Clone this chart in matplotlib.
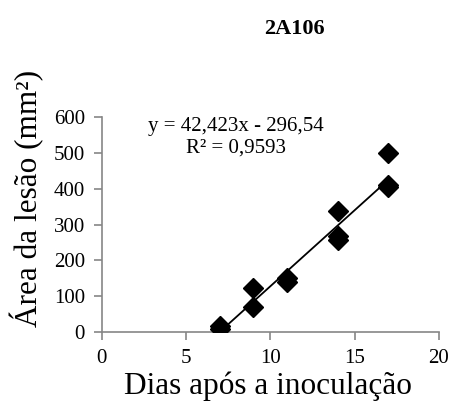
import numpy as np
import matplotlib
matplotlib.use("Agg")
import matplotlib.pyplot as plt

plt.rcParams['font.family'] = ['Liberation Serif', 'DejaVu Serif']

dias = [7, 7, 9, 9, 11, 11, 14, 14, 14, 17, 17, 17]
area = [18, 8, 122, 70, 152, 141, 337, 268, 258, 500, 410, 406]
slope, intercept = 42.423, -296.54
x_ticks = [0, 5, 10, 15, 20]
y_ticks = [0, 100, 200, 300, 400, 500, 600]

W, H = 452, 412
fig = plt.figure(figsize=(W / 100, H / 100), dpi=100)
ax = fig.add_axes([0.225, 0.194, 0.746, 0.522])

ax.plot(dias, area, linestyle="none", marker="D", markersize=10,
        color="black", zorder=3)
xl = np.array([min(dias), max(dias)])
ax.plot(xl, slope * xl + intercept, color="black", linewidth=1.3, zorder=2)

ax.set_xlim(0, 20)
ax.set_ylim(0, 600)
ax.set_xticks(x_ticks)
ax.set_yticks(y_ticks)
for s in ["top", "right"]:
    ax.spines[s].set_visible(False)
for s in ["left", "bottom"]:
    ax.spines[s].set_color("#868686")
    ax.spines[s].set_linewidth(1.2)
ax.tick_params(colors="#868686", labelcolor="black", labelsize=15,
               direction="out", length=6, width=1.2, pad=6)

# trendline equation (Excel-style label)
fig.text(236 / W, 1 - 127 / H, "y = 42,423x - 296,54",
         ha="center", va="center", fontsize=15)
fig.text(236 / W, 1 - 148 / H, "R² = 0,9593",
         ha="center", va="center", fontsize=15)

ax.set_xlabel("Dias após a inoculação", fontsize=22.5, va="center")
ax.xaxis.set_label_coords((268 - 101.7) / 337.3, -(386 - 332) / 215)
ax.set_ylabel("Área da lesão (mm²)", fontsize=22.5, va="center")
ax.yaxis.set_label_coords((27.5 - 101.7) / 337.3, (332 - 198) / 215)
fig.text(294 / W, 1 - 29 / H, "2A106", ha="center", va="center",
         fontsize=16, fontweight="bold")

fig.savefig("out.png", dpi=100)
